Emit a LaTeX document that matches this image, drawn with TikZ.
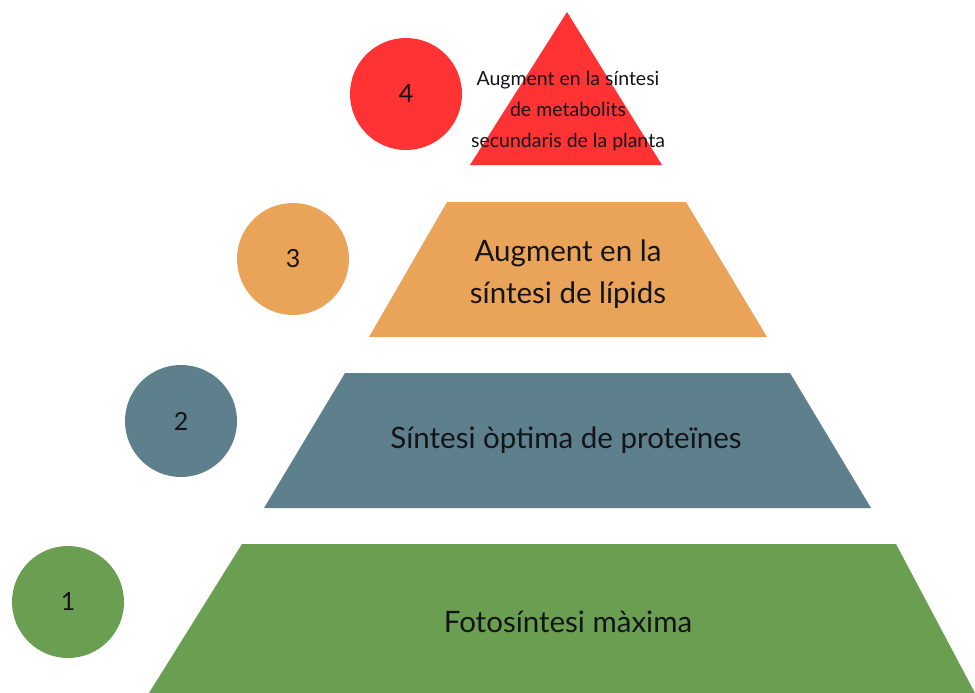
\documentclass[tikz,border=0pt]{standalone}
\usepackage{fontspec}
\setmainfont{Lato}
\usetikzlibrary{positioning}
\definecolor{lvlred}{RGB}{255,51,51}
\definecolor{lvlorange}{RGB}{234,164,90}
\definecolor{lvlblue}{RGB}{94,128,140}
\definecolor{lvlgreen}{RGB}{106,158,80}
\definecolor{inkdark}{RGB}{20,20,24}

\begin{document}
\begin{tikzpicture}[x=1pt,y=-1pt,
   num/.style={circle,minimum size=112pt,inner sep=0pt,text=inkdark,
      font=\fontsize{25}{28}\selectfont},
   lvltext/.style={align=center,text=inkdark,font=\fontsize{29.5}{42}\selectfont}]
   \useasboundingbox (0,0) rectangle (975,693);

   % level 4
   \fill[lvlred] (567,12) -- (662,165) -- (470,165) -- cycle;
   \node[num,fill=lvlred] (n4) at (406,94) {4};
   \node[lvltext,font=\fontsize{19.5}{31}\selectfont] (t4) at (568,111)
      {Augment en la síntesi\\de metabolits\\secundaris de la planta};

   % level 3
   \fill[lvlorange] (447,202) -- (686,202) -- (767,337) -- (369,337) -- cycle;
   \node[num,fill=lvlorange] (n3) at (293,259) {3};
   \node[lvltext] (t3) at (568,274) {Augment en la\\síntesi de lípids};

   % level 2
   \fill[lvlblue] (345,373) -- (790,373) -- (871,508) -- (264,508) -- cycle;
   \node[num,fill=lvlblue] (n2) at (181,421) {2};
   \node[lvltext] (t2) at (566,440) {Síntesi òptima de proteïnes};

   % level 1
   \fill[lvlgreen] (242,544) -- (896,544) -- (975,693) -- (149,693) -- cycle;
   \node[num,fill=lvlgreen] (n1) at (68,602) {1};
   \node[lvltext] (t1) at (568,622) {Fotosíntesi màxima};
\end{tikzpicture}
\end{document}
